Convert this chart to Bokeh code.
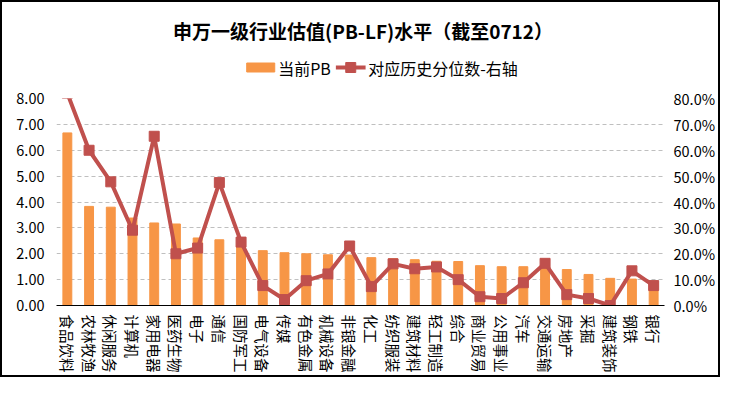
from bokeh.plotting import figure
from bokeh.layouts import column, row
from bokeh.models import (Range1d, LinearAxis, FixedTicker, PrintfTickFormatter, FactorRange,
                          Spacer)
from bokeh.core.properties import value
from bokeh.embed import file_html
from bokeh.resources import INLINE

categories = ["食品饮料", "农林牧渔", "休闲服务", "计算机", "家用电器", "医药生物", "电子",
              "通信", "国防军工", "电气设备", "传媒", "有色金属", "机械设备", "非银金融",
              "化工", "纺织服装", "建筑材料", "轻工制造", "综合", "商业贸易", "公用事业",
              "汽车", "交通运输", "房地产", "采掘", "建筑装饰", "钢铁", "银行"]
pb_values = [6.67, 3.83, 3.80, 3.38, 3.19, 3.15, 2.61, 2.54, 2.31, 2.12, 2.04, 2.00, 1.96,
             1.95, 1.85, 1.81, 1.77, 1.71, 1.70, 1.54, 1.50, 1.50, 1.52, 1.39, 1.20, 1.05,
             1.02, 0.92]
pct_values = [82.0, 60.0, 47.8, 29.1, 65.4, 20.0, 22.2, 47.5, 24.5, 7.7, 2.3, 9.6, 12.2,
              23.0, 7.3, 16.1, 14.2, 14.9, 10.0, 3.4, 2.7, 8.8, 16.3, 4.2, 2.7, 0.0, 13.4, 7.7]
left_ticks = [0, 1, 2, 3, 4, 5, 6, 7, 8]
right_ticks = [0, 10, 20, 30, 40, 50, 60, 70, 80]
title_text = "申万一级行业估值(PB-LF)水平（截至0712）"
bar_label = "当前PB"
line_label = "对应历史分位数-右轴"

FONT = "Noto Sans CJK SC"
BAR_COLOR = "#F79646"
LINE_COLOR = "#C0504D"
W, H = 720, 377
B = 2                      # border thickness
IW, IH = W - 2 * B, H - 2 * B
H1 = 80
H2 = IH - H1


def black_bar(w, h):
    return Spacer(width=w, height=h, styles={"background-color": "black"})


# ---------- header: title + legend (data units = page pixels) ----------
hd = figure(width=IW, height=H1, x_range=Range1d(B, B + IW), y_range=Range1d(B + H1, B),
            output_backend="svg", toolbar_location=None, x_axis_location=None,
            y_axis_location=None, min_border=0, outline_line_color=None,
            background_fill_color="white", border_fill_color="white")
hd.grid.visible = False
hd.text(x=[363], y=[30], text=[title_text], text_font=value(FONT), text_font_size="19px",
        text_font_style="bold", text_align="center", text_baseline="middle",
        text_color="black")
hd.rect(x=[242.5], y=[67], width=33, height=9, color=BAR_COLOR)
hd.text(x=[263], y=[67], text=[bar_label], text_font=value(FONT), text_font_size="16px",
        text_align="left", text_baseline="middle", text_color="black")
hd.line(x=[331, 366], y=[67, 67], line_color=LINE_COLOR, line_width=4)
hd.scatter(x=[348.5], y=[67], marker="square", size=10, color=LINE_COLOR)
hd.text(x=[369], y=[67], text=[line_label], text_font=value(FONT), text_font_size="16px",
        text_align="left", text_baseline="middle", text_color="black")

# ---------- main chart ----------
p = figure(x_range=FactorRange(factors=categories), y_range=Range1d(0, 8),
           width=IW, height=H2, output_backend="svg", toolbar_location=None,
           min_border_left=54, min_border_right=53, min_border_top=16, min_border_bottom=69,
           background_fill_color="white", border_fill_color="white")
p.outline_line_color = None
p.extra_y_ranges = {"pct": Range1d(0, 80)}

p.vbar(x=categories, top=pb_values, width=0.41, color=BAR_COLOR)
p.line(x=categories, y=pct_values, y_range_name="pct", line_color=LINE_COLOR, line_width=4)
p.scatter(x=categories, y=pct_values, y_range_name="pct", marker="square", size=10,
          color=LINE_COLOR)

xa = p.xaxis[0]
xa.axis_line_color = "black"
xa.axis_line_width = 1
xa.major_tick_line_color = None
xa.minor_tick_line_color = None
xa.major_tick_out = 0
xa.major_tick_in = 0
xa.major_label_orientation = "vertical"
xa.major_label_text_font = FONT
xa.major_label_text_font_size = "14.5px"
xa.major_label_text_color = "black"
xa.major_label_standoff = 9

ya = p.yaxis[0]
ya.ticker = FixedTicker(ticks=left_ticks)
ya.formatter = PrintfTickFormatter(format="%.2f")
ya.axis_line_color = None
ya.major_tick_line_color = None
ya.minor_tick_line_color = None
ya.major_tick_out = 0
ya.major_tick_in = 0
ya.major_label_text_font = FONT
ya.major_label_text_font_size = "14.5px"
ya.major_label_text_color = "black"
ya.major_label_standoff = 12

ra = LinearAxis(y_range_name="pct", ticker=FixedTicker(ticks=right_ticks),
                formatter=PrintfTickFormatter(format="%.1f%%"))
ra.axis_line_color = None
ra.major_tick_line_color = None
ra.minor_tick_line_color = None
ra.major_tick_out = 0
ra.major_tick_in = 0
ra.major_label_text_font = FONT
ra.major_label_text_font_size = "14.5px"
ra.major_label_text_color = "black"
ra.major_label_standoff = 9
p.add_layout(ra, "right")

p.xgrid.grid_line_color = None
p.ygrid.ticker = FixedTicker(ticks=left_ticks[1:])
p.ygrid.grid_line_color = "#BFBFBF"
p.ygrid.grid_line_dash = "4 3"
p.ygrid.grid_line_width = 1

inner = column(hd, p, spacing=0)
middle = row(black_bar(B, IH), inner, black_bar(B, IH), spacing=0)
layout = column(black_bar(W, B), middle, black_bar(W, B), spacing=0)

open("out.html", "w").write(file_html(layout, INLINE))
